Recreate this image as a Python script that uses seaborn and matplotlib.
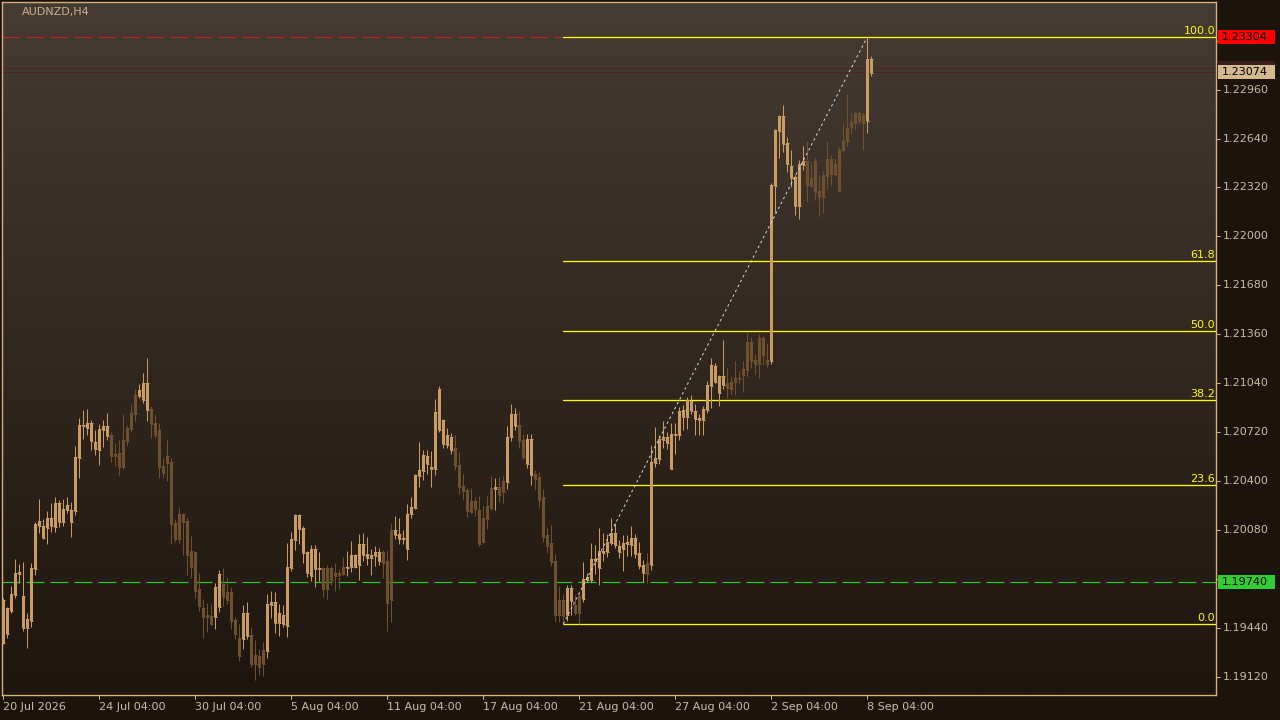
import numpy as np
import pandas as pd
import matplotlib
matplotlib.use("Agg")
import matplotlib.pyplot as plt
import matplotlib.transforms as mtransforms
from matplotlib.patches import Rectangle
import seaborn as sns

# ---------------- data ----------------
symbol_title = "AUDNZD,H4"

opens = [
    1.19342, 1.19401, 1.19551, 1.19656, 1.19793, 1.19441, 1.19441, 1.19486, 1.19826, 1.20107,
    1.20029, 1.20094, 1.20107, 1.20100, 1.20133, 1.20133, 1.20211, 1.20133, 1.20204, 1.20552,
    1.20761, 1.20748, 1.20662, 1.20610, 1.20604, 1.20734, 1.20695, 1.20701, 1.20578, 1.20584,
    1.20669, 1.20748, 1.20845, 1.20963, 1.20956, 1.20930, 1.20865, 1.20872, 1.20780, 1.20734,
    1.20499, 1.20565, 1.20525, 1.20126, 1.20185, 1.20185, 1.20139, 1.19943, 1.19937, 1.19695,
    1.19571, 1.19525, 1.19519, 1.19512, 1.19577, 1.19728, 1.19676, 1.19676, 1.19493, 1.19375,
    1.19369, 1.19388, 1.19395, 1.19264, 1.19258, 1.19297, 1.19290, 1.19591, 1.19473, 1.19473,
    1.19467, 1.19454, 1.19833, 1.20015, 1.20087, 1.19930, 1.19799, 1.19780, 1.19826, 1.19826,
    1.19833, 1.19833, 1.19833, 1.19799, 1.19799, 1.19839, 1.19833, 1.19839, 1.19839, 1.19852,
    1.19917, 1.19898, 1.19898, 1.19911, 1.19878, 1.19937, 1.19878, 1.20081, 1.20048, 1.20022,
    1.20022, 1.19956, 1.20185, 1.20224, 1.20434, 1.20466, 1.20512, 1.20480, 1.20480, 1.20734,
    1.20643, 1.20636, 1.20604, 1.20617, 1.20506, 1.20369, 1.20342, 1.20270, 1.20270, 1.20211,
    1.20159, 1.20237, 1.20355, 1.20349, 1.20362, 1.20401, 1.20395, 1.20688, 1.20761, 1.20767,
    1.20669, 1.20512, 1.20440, 1.20447, 1.20427, 1.20296, 1.20048, 1.19996, 1.19878, 1.19623,
    1.19623, 1.19525, 1.19617, 1.19591, 1.19650, 1.19630, 1.19754, 1.19754, 1.19878, 1.19833,
    1.19930, 1.19937, 1.19996, 1.19983, 1.19937, 1.19956, 1.19989, 1.19983, 1.19924, 1.19846,
    1.19799, 1.19865, 1.19852, 1.20519, 1.20545, 1.20669, 1.20649, 1.20480, 1.20701, 1.20701,
    1.20819, 1.20819, 1.20858, 1.20806, 1.20800, 1.20800, 1.20865, 1.21022, 1.21048, 1.20976,
    1.21028, 1.21041, 1.21048, 1.21074, 1.21074, 1.21133, 1.21309, 1.21309, 1.21192, 1.21336,
    1.21336, 1.21192, 1.21185, 1.22329, 1.22688, 1.22603, 1.22472, 1.22381, 1.22198, 1.22198,
    1.22466, 1.22492, 1.22381, 1.22492, 1.22296, 1.22401, 1.22505, 1.22505, 1.22472, 1.22564,
    1.22623, 1.22708, 1.22747, 1.22806, 1.22806, 1.22793, 1.22753, 1.23067,
]

highs = [
    1.19637, 1.19577, 1.19715, 1.19891, 1.19859, 1.19872, 1.19538, 1.19865, 1.20133, 1.20283,
    1.20152, 1.20204, 1.20257, 1.20296, 1.20277, 1.20283, 1.20296, 1.20264, 1.20630, 1.20813,
    1.20865, 1.20872, 1.20800, 1.20734, 1.20774, 1.20800, 1.20845, 1.20721, 1.20649, 1.20669,
    1.20839, 1.20767, 1.20904, 1.21002, 1.21035, 1.21106, 1.21205, 1.20891, 1.20832, 1.20780,
    1.20552, 1.20669, 1.20552, 1.20152, 1.20231, 1.20191, 1.20165, 1.20041, 1.19943, 1.19799,
    1.19630, 1.19604, 1.19597, 1.19734, 1.19819, 1.19833, 1.19774, 1.19708, 1.19512, 1.19467,
    1.19591, 1.19610, 1.19447, 1.19362, 1.19303, 1.19349, 1.19663, 1.19682, 1.19676, 1.19597,
    1.19591, 1.19996, 1.20068, 1.20185, 1.20185, 1.20107, 1.19943, 1.19983, 1.19983, 1.19937,
    1.19839, 1.19852, 1.19846, 1.19865, 1.19826, 1.19904, 1.19943, 1.20009, 1.19924, 1.20055,
    1.20061, 1.20035, 1.19956, 1.19976, 1.19963, 1.19950, 1.19950, 1.20126, 1.20172, 1.20159,
    1.20081, 1.20250, 1.20296, 1.20447, 1.20656, 1.20604, 1.20604, 1.20597, 1.20937, 1.21022,
    1.20806, 1.20748, 1.20715, 1.20701, 1.20591, 1.20447, 1.20355, 1.20355, 1.20296, 1.20303,
    1.20244, 1.20303, 1.20434, 1.20421, 1.20427, 1.20434, 1.20761, 1.20904, 1.20878, 1.20858,
    1.20708, 1.20708, 1.20708, 1.20473, 1.20460, 1.20349, 1.20100, 1.20113, 1.19924, 1.19715,
    1.19663, 1.19721, 1.19721, 1.19656, 1.19682, 1.19872, 1.19799, 1.19996, 1.19983, 1.20094,
    1.20061, 1.20055, 1.20159, 1.20126, 1.20015, 1.20048, 1.20048, 1.20107, 1.20055, 1.20002,
    1.19885, 1.19930, 1.20636, 1.20754, 1.20701, 1.20793, 1.20721, 1.20780, 1.20780, 1.20884,
    1.20898, 1.20950, 1.20963, 1.20904, 1.20839, 1.20891, 1.21055, 1.21205, 1.21172, 1.21094,
    1.21322, 1.21140, 1.21087, 1.21185, 1.21120, 1.21185, 1.21368, 1.21342, 1.21231, 1.21362,
    1.21349, 1.21296, 1.22348, 1.22701, 1.22793, 1.22858, 1.22649, 1.22564, 1.22401, 1.22499,
    1.22590, 1.22623, 1.22486, 1.22512, 1.22401, 1.22427, 1.22623, 1.22531, 1.22505, 1.22583,
    1.22740, 1.22930, 1.22806, 1.22812, 1.22819, 1.22806, 1.23304, 1.23178,
]

lows = [
    1.19336, 1.19375, 1.19538, 1.19637, 1.19734, 1.19420, 1.19310, 1.19447, 1.19786, 1.20061,
    1.20022, 1.19989, 1.20068, 1.20068, 1.20100, 1.20107, 1.20191, 1.20035, 1.20178, 1.20421,
    1.20675, 1.20701, 1.20604, 1.20571, 1.20506, 1.20624, 1.20669, 1.20525, 1.20499, 1.20440,
    1.20480, 1.20630, 1.20721, 1.20793, 1.20943, 1.20910, 1.20793, 1.20682, 1.20682, 1.20421,
    1.20421, 1.20401, 1.19989, 1.20002, 1.19996, 1.19917, 1.19786, 1.19767, 1.19637, 1.19551,
    1.19375, 1.19414, 1.19460, 1.19434, 1.19545, 1.19584, 1.19597, 1.19434, 1.19369, 1.19225,
    1.19303, 1.19369, 1.19186, 1.19101, 1.19133, 1.19127, 1.19244, 1.19506, 1.19408, 1.19388,
    1.19447, 1.19382, 1.19813, 1.19950, 1.19989, 1.19865, 1.19774, 1.19747, 1.19708, 1.19747,
    1.19643, 1.19630, 1.19721, 1.19682, 1.19695, 1.19786, 1.19780, 1.19806, 1.19833, 1.19754,
    1.19878, 1.19852, 1.19786, 1.19846, 1.19852, 1.19767, 1.19420, 1.19480, 1.20022, 1.19989,
    1.19989, 1.19885, 1.20159, 1.20218, 1.20362, 1.20408, 1.20447, 1.20362, 1.20440, 1.20721,
    1.20617, 1.20617, 1.20578, 1.20473, 1.20316, 1.20277, 1.20165, 1.20191, 1.20172, 1.19976,
    1.19996, 1.20087, 1.20211, 1.20211, 1.20264, 1.20257, 1.20349, 1.20662, 1.20734, 1.20617,
    1.20545, 1.20486, 1.20375, 1.20342, 1.20224, 1.20002, 1.19930, 1.19846, 1.19480, 1.19480,
    1.19466, 1.19486, 1.19525, 1.19525, 1.19467, 1.19610, 1.19741, 1.19741, 1.19793, 1.19721,
    1.19878, 1.19904, 1.19983, 1.19963, 1.19898, 1.19813, 1.19911, 1.19911, 1.19898, 1.19826,
    1.19741, 1.19734, 1.19819, 1.20493, 1.20512, 1.20617, 1.20610, 1.20480, 1.20578, 1.20669,
    1.20734, 1.20741, 1.20839, 1.20701, 1.20701, 1.20701, 1.20845, 1.20878, 1.21041, 1.20891,
    1.21002, 1.20943, 1.20969, 1.20963, 1.21035, 1.20983, 1.21081, 1.21140, 1.21100, 1.21074,
    1.21159, 1.21146, 1.21166, 1.22152, 1.22512, 1.22551, 1.22420, 1.22322, 1.22139, 1.22113,
    1.22433, 1.22231, 1.22322, 1.22237, 1.22133, 1.22152, 1.22309, 1.22335, 1.22394, 1.22296,
    1.22551, 1.22590, 1.22668, 1.22701, 1.22740, 1.22564, 1.22675, 1.23047,
]

closes = [
    1.19623, 1.19571, 1.19663, 1.19799, 1.19806, 1.19650, 1.19499, 1.19833, 1.20120, 1.20139,
    1.20107, 1.20159, 1.20159, 1.20257, 1.20257, 1.20218, 1.20244, 1.20211, 1.20558, 1.20767,
    1.20767, 1.20780, 1.20780, 1.20656, 1.20741, 1.20761, 1.20761, 1.20565, 1.20565, 1.20493,
    1.20493, 1.20662, 1.20741, 1.20839, 1.20996, 1.21041, 1.21041, 1.20774, 1.20701, 1.20493,
    1.20453, 1.20519, 1.20120, 1.20022, 1.20022, 1.20133, 1.19917, 1.19839, 1.19682, 1.19584,
    1.19512, 1.19512, 1.19467, 1.19708, 1.19793, 1.19643, 1.19623, 1.19486, 1.19401, 1.19258,
    1.19538, 1.19538, 1.19205, 1.19205, 1.19186, 1.19205, 1.19597, 1.19610, 1.19610, 1.19538,
    1.19525, 1.19839, 1.20022, 1.20178, 1.20178, 1.20094, 1.19937, 1.19956, 1.19956, 1.19833,
    1.19695, 1.19695, 1.19754, 1.19780, 1.19786, 1.19793, 1.19839, 1.19917, 1.19917, 1.19989,
    1.19989, 1.19924, 1.19917, 1.19937, 1.19937, 1.19865, 1.19604, 1.19623, 1.20081, 1.20055,
    1.20029, 1.20185, 1.20231, 1.20440, 1.20473, 1.20571, 1.20565, 1.20493, 1.20852, 1.21002,
    1.20800, 1.20701, 1.20688, 1.20499, 1.20362, 1.20336, 1.20204, 1.20198, 1.20218, 1.19989,
    1.20002, 1.20152, 1.20224, 1.20362, 1.20310, 1.20329, 1.20688, 1.20839, 1.20839, 1.20662,
    1.20558, 1.20675, 1.20675, 1.20414, 1.20277, 1.20035, 1.19976, 1.19872, 1.19525, 1.19525,
    1.19519, 1.19702, 1.19702, 1.19538, 1.19538, 1.19761, 1.19774, 1.19891, 1.19891, 1.19943,
    1.19943, 1.20002, 1.20061, 1.20061, 1.19976, 1.19996, 1.20002, 1.20029, 1.20029, 1.19930,
    1.19852, 1.19793, 1.20525, 1.20552, 1.20675, 1.20688, 1.20688, 1.20708, 1.20708, 1.20858,
    1.20865, 1.20930, 1.20924, 1.20858, 1.20813, 1.20872, 1.21028, 1.21159, 1.21153, 1.21087,
    1.21087, 1.21009, 1.21002, 1.21048, 1.21067, 1.21094, 1.21126, 1.21185, 1.21166, 1.21166,
    1.21224, 1.21166, 1.22335, 1.22695, 1.22786, 1.22786, 1.22610, 1.22459, 1.22388, 1.22472,
    1.22492, 1.22335, 1.22329, 1.22290, 1.22257, 1.22257, 1.22394, 1.22407, 1.22407, 1.22296,
    1.22564, 1.22623, 1.22714, 1.22740, 1.22753, 1.22740, 1.23158, 1.23158,
]

time_tick_index = [0, 24, 48, 72, 96, 120, 144, 168, 192, 216]
time_tick_labels = ["20 Jul 2026", "24 Jul 04:00", "30 Jul 04:00", "5 Aug 04:00",
                    "11 Aug 04:00", "17 Aug 04:00", "21 Aug 04:00", "27 Aug 04:00",
                    "2 Sep 04:00", "8 Sep 04:00"]
price_ticks = [1.19120, 1.19440, 1.19760, 1.20080, 1.20400, 1.20720, 1.21040,
               1.21360, 1.21680, 1.22000, 1.22320, 1.22640, 1.22960, 1.23280]

fib_start_index = 140
fib_end_index = 216
fib_low = 1.19466
fib_high = 1.23304
fib_ratios = [0.0, 23.6, 38.2, 50.0, 61.8, 100.0]

high_line_price = 1.23304
green_line_price = 1.19740
bid_price = 1.23074
ask_price = 1.23103

# ---------------- style ----------------
W, H = 1280, 720
PLOT_L, PLOT_R, PLOT_T, PLOT_B = 2, 1216, 2, 695
PX_PER_BAR = 4.0
FIRST_BAR_PX = 3.3
PRICE_PER_PX = (fib_high - fib_low) / (624 - 37)

BULL = "#c99c63"
BEAR = "#6f512f"
FRAME = "#d4b07a"
TEXT = "#cbbda4"
YELLOW = "#ffff00"
OUTER = "#1c130c"
FS = 8

sns.set_style("dark")
plt.rcParams["font.family"] = ["DejaVu Sans"]
plt.rcParams["font.size"] = FS

fig = plt.figure(figsize=(W / 100, H / 100), dpi=100, facecolor=OUTER)
ax = fig.add_axes([PLOT_L / W, 1 - PLOT_B / H, (PLOT_R - PLOT_L) / W, (PLOT_B - PLOT_T) / H])

x_min = (PLOT_L - FIRST_BAR_PX) / PX_PER_BAR
x_max = (PLOT_R - FIRST_BAR_PX) / PX_PER_BAR
y_top = fib_high + (37 - PLOT_T) * PRICE_PER_PX
y_bot = fib_low - (PLOT_B - 624) * PRICE_PER_PX

# background gradient
top_c = np.array([0x45, 0x3b, 0x32]) / 255
bot_c = np.array([0x1e, 0x15, 0x0e]) / 255
t = np.linspace(0, 1, 256)[:, None]
grad = (top_c[None, :] * (1 - t) + bot_c[None, :] * t)[:, None, :]
ax.imshow(grad, extent=[0, 1, 0, 1], transform=ax.transAxes, aspect="auto", zorder=0)
ax.set_autoscale_on(False)

df = pd.DataFrame({"open": opens, "high": highs, "low": lows, "close": closes})
df["idx"] = np.arange(len(df))
colors = np.where(df["close"] >= df["open"], BULL, BEAR)

lw1 = 72 / 100  # one pixel in points
ax.vlines(df["idx"], df["low"], df["high"], colors=colors, linewidth=lw1, zorder=3)
ax.bar(df["idx"], (df["close"] - df["open"]).abs(), bottom=np.minimum(df["open"], df["close"]),
       width=0.75, color=colors, linewidth=0, zorder=4)
ax.hlines(df["open"], df["idx"] - 0.375, df["idx"] + 0.375, colors=colors, linewidth=lw1, zorder=4)
ax.hlines(df["close"], df["idx"] - 0.375, df["idx"] + 0.375, colors=colors, linewidth=lw1, zorder=4)

# horizontal lines
ax.plot([x_min, fib_start_index], [high_line_price, high_line_price], color="#c8231c",
        linewidth=lw1, dashes=(18, 6), zorder=2)
ax.plot([x_min, x_max], [green_line_price, green_line_price], color="#23cd23",
        linewidth=lw1 * 1.2, dashes=(15, 5), zorder=2)
for p in (ask_price, bid_price):
    ax.plot([x_min, x_max], [p, p], color="#4e2420", linewidth=lw1 * 0.9, zorder=2)

# fibonacci
trans_y = mtransforms.blended_transform_factory(ax.transAxes, ax.transData)
for r in fib_ratios:
    p = fib_low + r / 100 * (fib_high - fib_low)
    ax.plot([fib_start_index, x_max], [p, p], color=YELLOW, linewidth=lw1 * 1.3, zorder=2)
    ax.text((1215 - PLOT_L) / (PLOT_R - PLOT_L), p + 1 * PRICE_PER_PX, f"{r:.1f}", transform=trans_y,
            ha="right", va="bottom", color=YELLOW, fontsize=FS, zorder=6)

diag = pd.DataFrame({"bar": [fib_start_index, fib_end_index], "price": [fib_low, fib_high]})
sns.lineplot(data=diag, x="bar", y="price", ax=ax, color="#d8d8d8", linewidth=lw1,
             linestyle=(0, (2.5, 3)), zorder=5)

ax.set_xlim(x_min, x_max)
ax.set_ylim(y_bot, y_top)
ax.set_xticks([])
ax.set_yticks([])
ax.set_xlabel("")
ax.set_ylabel("")
for s in ax.spines.values():
    s.set_color(FRAME)
    s.set_linewidth(1.0)
    s.set_visible(True)

# title
ax.text((22 - PLOT_L) / (PLOT_R - PLOT_L), 1 - (12 - PLOT_T) / (PLOT_B - PLOT_T), symbol_title,
        transform=ax.transAxes, ha="left", va="center", color="#c9b48e", fontsize=FS)

# y axis ticks and labels (labels hidden under a price box are not drawn, as on the reference)
axw = PLOT_R - PLOT_L
box_prices = [high_line_price, ask_price, bid_price, green_line_price]
for p in price_ticks:
    ax.plot([1.0, (1220 - PLOT_L) / axw], [p, p], transform=trans_y, color=FRAME,
            linewidth=lw1, clip_on=False)
    if min(abs(p - b) for b in box_prices) < 10 * PRICE_PER_PX:
        continue
    ax.text((1223 - PLOT_L) / axw, p, f"{p:.5f}", transform=trans_y, ha="left", va="center",
            color=TEXT, fontsize=FS, clip_on=False)

def price_box(price, fc, tc, text):
    h = 14 * PRICE_PER_PX
    ax.add_patch(Rectangle(((1218 - PLOT_L) / axw, price - h / 2), 57 / axw, h, transform=trans_y,
                           facecolor=fc, edgecolor="none", clip_on=False, zorder=10))
    if text:
        ax.text((1222 - PLOT_L) / axw, price, text, transform=trans_y, ha="left", va="center",
                color=tc, fontsize=FS, clip_on=False, zorder=11)

price_box(high_line_price, "#ff0000", "#000000", f"{high_line_price:.5f}")
price_box(ask_price, "#3a201c", "#1a100c", "")
price_box(bid_price, "#d6b88e", "#000000", f"{bid_price:.5f}")
price_box(green_line_price, "#32cd32", "#000000", f"{green_line_price:.5f}")

# x axis ticks and labels
trans_x = mtransforms.blended_transform_factory(ax.transData, ax.transAxes)
axh = PLOT_B - PLOT_T
for i, lab in zip(time_tick_index, time_tick_labels):
    ax.plot([i, i], [0, -4 / axh], transform=trans_x, color=FRAME, linewidth=lw1, clip_on=False)
    ax.text(i, -(707 - PLOT_B) / axh, lab, transform=trans_x, ha="left", va="center",
            color=TEXT, fontsize=FS, clip_on=False)

fig.savefig("out.png", dpi=100, facecolor=OUTER)
